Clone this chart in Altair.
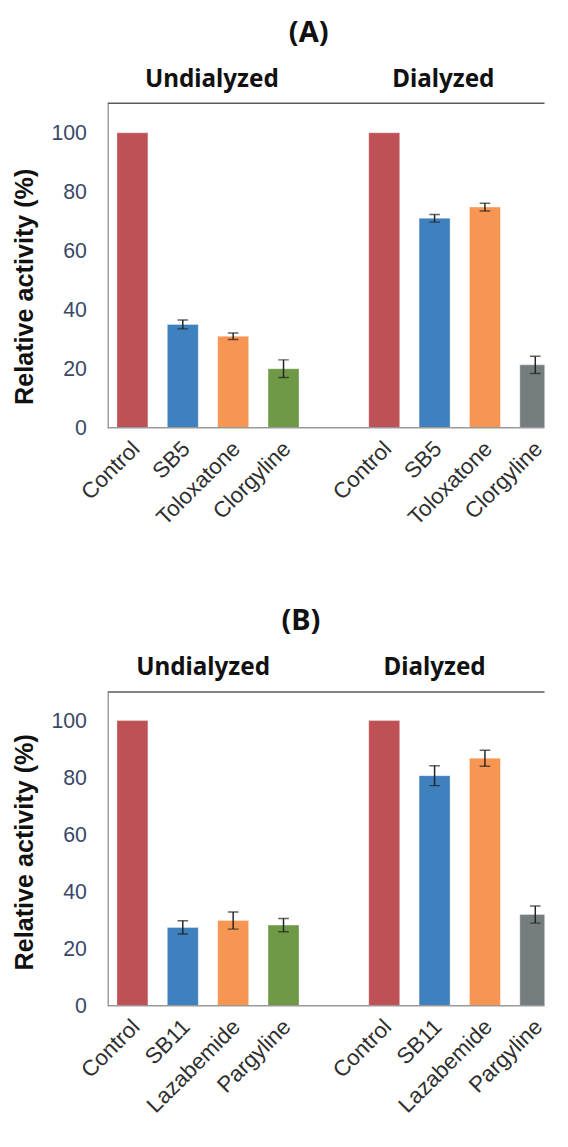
import altair as alt
import pandas as pd

# ---------------- data ----------------
groups = ["Undialyzed", "Dialyzed"]

cats_A = ["Control", "SB5", "Toloxatone", "Clorgyline"]
undialyzed_A = [100, 35.0, 31.0, 20.0]
undialyzed_A_err = [0, 1.5, 1.1, 3.0]
dialyzed_A = [100, 71.0, 74.8, 21.3]
dialyzed_A_err = [0, 1.3, 1.3, 2.9]

cats_B = ["Control", "SB11", "Lazabemide", "Pargyline"]
undialyzed_B = [100, 27.5, 29.9, 28.3]
undialyzed_B_err = [0, 2.3, 3.0, 2.3]
dialyzed_B = [100, 80.7, 86.8, 32.0]
dialyzed_B_err = [0, 3.5, 2.8, 3.0]

palette_undialyzed = ["#BE5155", "#3F80BF", "#F79552", "#6F9946"]
palette_dialyzed = ["#BE5155", "#3F80BF", "#F79552", "#767D7E"]

y_ticks = [0, 20, 40, 60, 80, 100]

# ---------------- style ----------------
W = 451
STEP_RANGE = 467
TICK_FONT = "Liberation Sans"
HEAD_FONT = "Noto Sans"


def panel(label, cats, und, und_err, dia, dia_err, height, title_dx, head_dy, head_dx,
          ytitle_y):
    keys_u = ["U|" + c for c in cats]
    keys_d = ["D|" + c for c in cats]
    domain = keys_u + [" "] + keys_d
    df = pd.DataFrame({
        "key": keys_u + keys_d,
        "value": und + dia,
        "err": und_err + dia_err,
    })
    df["lo"] = df["value"] - df["err"]
    df["hi"] = df["value"] + df["err"]
    df_err = df[df["err"] > 0]

    x = alt.X(
        "key:N",
        scale=alt.Scale(domain=domain, range=[0, STEP_RANGE],
                        paddingInner=0.385, paddingOuter=0.183),
        axis=alt.Axis(
            title=None, domain=False, ticks=False, labelAngle=-45,
            labelFont=TICK_FONT, labelFontSize=23, labelColor="#2f2f2f",
            labelPadding=10, labelOffset=-4,
            labelExpr="indexof(datum.label, '|') >= 0 ? split(datum.label, '|')[1] : ''",
        ),
    )
    yscale = alt.Scale(domain=[0, 110], nice=False)

    base = alt.Chart(df)
    bars = base.mark_bar(stroke="white", strokeOpacity=0.35, strokeWidth=1, clip=True).encode(
        x=x,
        y=alt.Y(
            "value:Q", scale=yscale,
            axis=alt.Axis(
                title="Relative activity (%)", values=y_ticks, grid=False,
                ticks=False, domainColor="#9a9a9a", domainWidth=1.5,
                labelFont=TICK_FONT, labelFontSize=22, labelColor="#3a4868",
                labelPadding=22, titleFont=TICK_FONT, titleFontSize=26,
                titleFontWeight="bold", titleColor="#111111", titlePadding=14,
                titleY=ytitle_y,
            ),
        ),
        color=alt.Color("key:N", scale=alt.Scale(domain=keys_u + keys_d,
                        range=palette_undialyzed + palette_dialyzed), legend=None),
    )
    eb = alt.Chart(df_err)
    rules = eb.mark_rule(color="#222222", strokeWidth=1.5, clip=True).encode(
        x=x, y=alt.Y("lo:Q", scale=yscale), y2="hi:Q")
    cap_lo = eb.mark_tick(color="#222222", size=11, thickness=1.5, clip=True).encode(
        x=x, y=alt.Y("lo:Q", scale=yscale))
    cap_hi = eb.mark_tick(color="#222222", size=11, thickness=1.5, clip=True).encode(
        x=x, y=alt.Y("hi:Q", scale=yscale))

    one = pd.DataFrame({"v": [0]})
    top_line = alt.Chart(one).mark_rule(color="#5a5a5a", strokeWidth=1.5).encode(
        y=alt.Y("t:Q", scale=yscale),
        x=alt.value(0), x2=alt.value(W)).transform_calculate(t="110")
    bottom_line = alt.Chart(one).mark_rule(color="#9a9a9a", strokeWidth=1.5).encode(
        y=alt.Y("b:Q", scale=yscale),
        x=alt.value(0), x2=alt.value(W)).transform_calculate(b="0")

    hdf_u = pd.DataFrame({"key": [keys_u[2]], "txt": [groups[0]]})
    hdf_d = pd.DataFrame({"key": [keys_d[1]], "txt": [groups[1]]})
    head_u = alt.Chart(hdf_u).mark_text(
        font=HEAD_FONT, fontSize=25, fontWeight="bold", color="#111111",
        baseline="alphabetic", dx=head_dx[0]).encode(
        x=x, y=alt.value(head_dy), text="txt:N")
    head_d = alt.Chart(hdf_d).mark_text(
        font=HEAD_FONT, fontSize=25, fontWeight="bold", color="#111111",
        baseline="alphabetic", dx=head_dx[1]).encode(
        x=x, y=alt.value(head_dy), text="txt:N")

    return alt.layer(bars, rules, cap_lo, cap_hi, top_line, bottom_line,
                     head_u, head_d).properties(
        width=W, height=height,
        title=alt.TitleParams(label, font=HEAD_FONT, fontSize=30, fontWeight="bold",
                              color="#111111", anchor="middle", dx=title_dx, offset=20),
    )


pA = panel("(A)", cats_A, undialyzed_A, undialyzed_A_err, dialyzed_A, dialyzed_A_err,
           335, -18, -17, (-22, 9), 189)
pB = panel("(B)", cats_B, undialyzed_B, undialyzed_B_err, dialyzed_B, dialyzed_B_err,
           324, -26, -18, (-31, 0), 165)

chart = alt.vconcat(pA, pB, spacing=80).properties(
    padding={"left": 4, "top": -7, "right": 0, "bottom": 0},
).configure_view(stroke=None).resolve_scale(x="independent", y="independent", color="independent")

chart.save("out.html", embed_options={"renderer": "svg", "actions": False})
